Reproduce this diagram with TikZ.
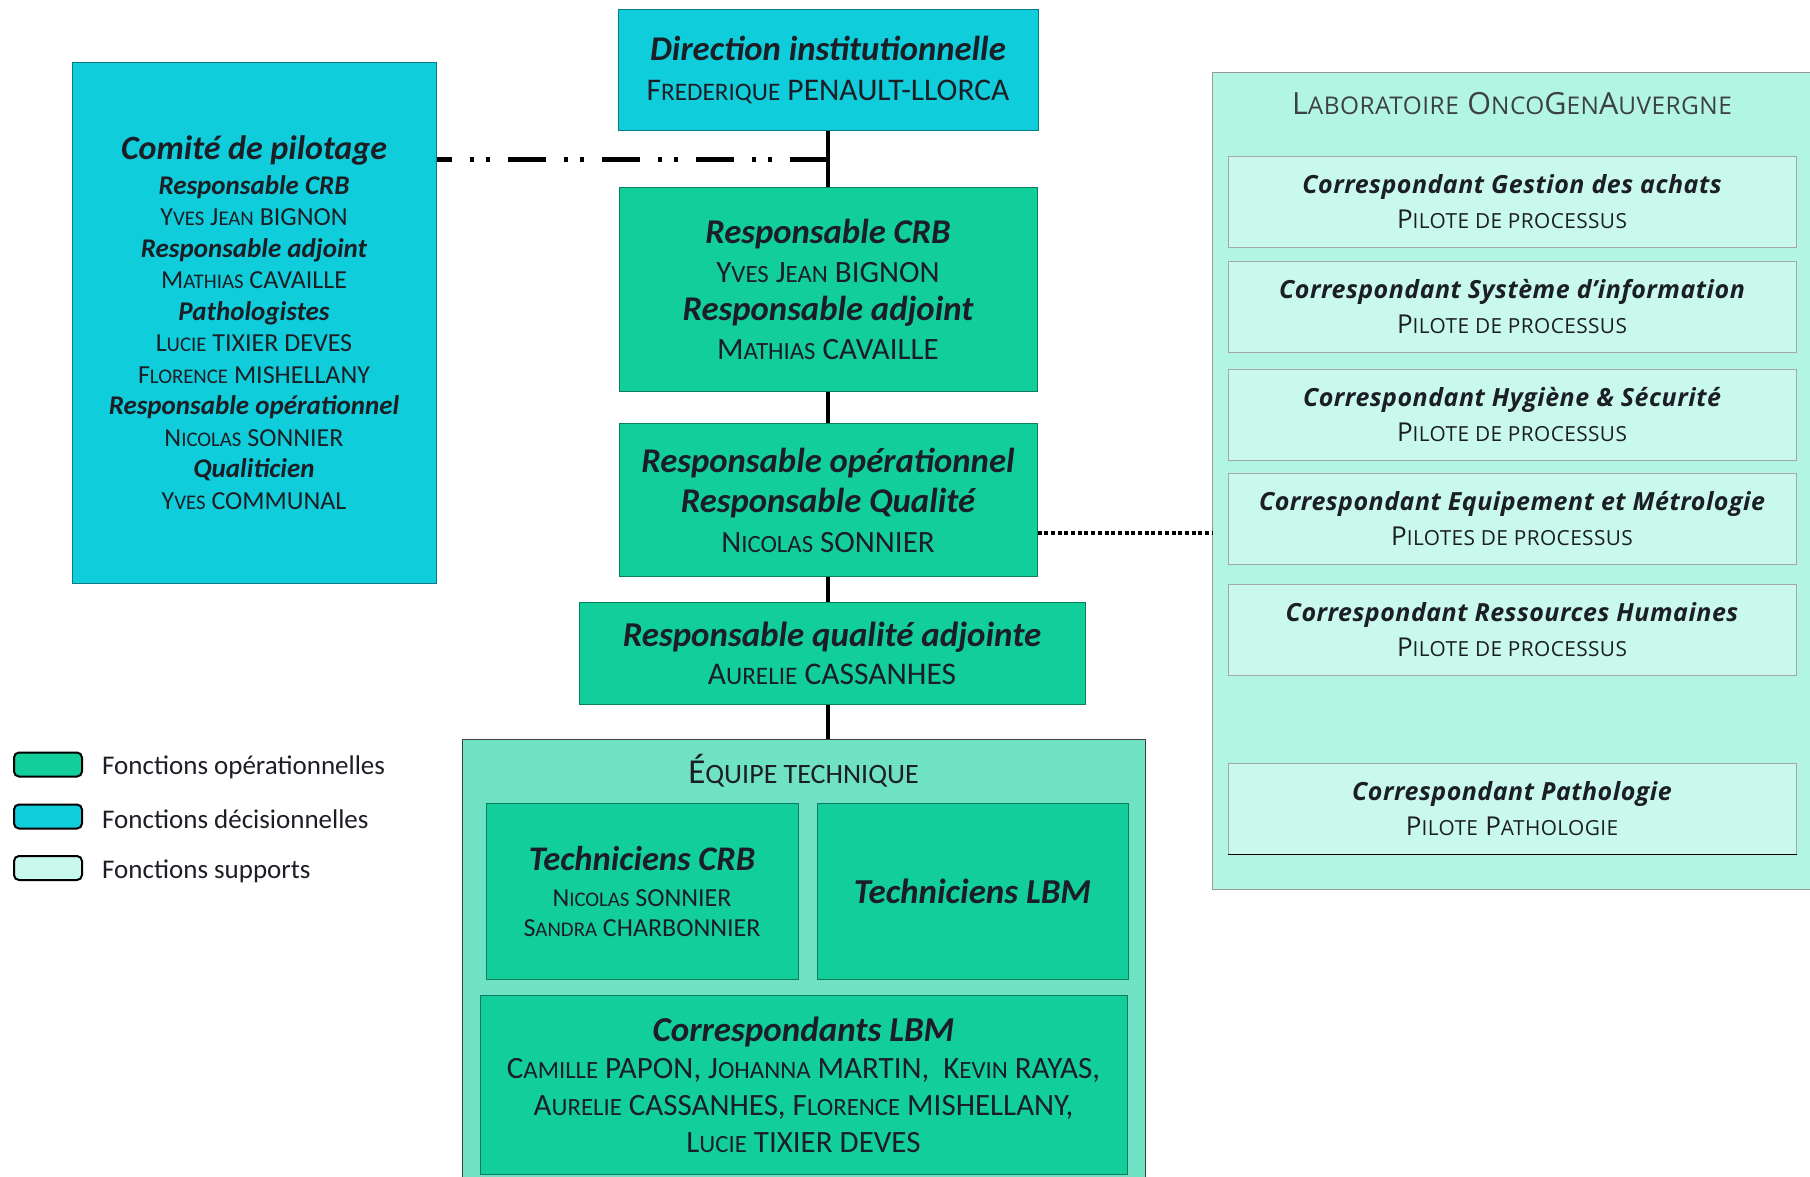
\documentclass[tikz,border=0pt]{standalone}
\usepackage{fontspec}
\setmainfont{Carlito}
\newfontfamily\labfont[LetterSpace=2]{Open Sans}
\usepackage{graphicx}
\usepackage{tikz}
\usetikzlibrary{positioning}

\definecolor{decision}{RGB}{16,205,220}
\definecolor{operation}{RGB}{18,206,154}
\definecolor{supportfond}{RGB}{178,245,226}
\definecolor{supportcase}{RGB}{201,248,236}
\definecolor{equipefond}{RGB}{111,226,195}
\definecolor{encre}{RGB}{27,30,36}

\newcommand\pc[1]{\scalebox{0.8}{#1}}
\newcommand\role[1]{{\bfseries\itshape #1}}
\newcommand\fs[2]{\fontsize{#1}{#2}\selectfont}

\tikzset{
  decisionbox/.style={draw=decision!60!black, line width=1pt, fill=decision, inner sep=0pt, align=center, text=encre},
  opbox/.style={draw=operation!60!black, line width=1pt, fill=operation, inner sep=0pt, align=center, text=encre},
  supportbox/.style={draw=black!35, line width=1pt, fill=supportcase, inner sep=0pt, align=center, text=encre,
    minimum width=568, minimum height=91, font=\labfont\fs{25}{35}},
  lien/.style={line width=3.5pt, black},
  legende/.style={draw=black, line width=2pt, rounded corners=5pt, minimum width=68, minimum height=24, inner sep=0pt},
  legtexte/.style={font=\fs{27}{30}, text=encre, inner sep=0pt, yshift=-3pt}
}

\begin{document}
\begin{tikzpicture}[x=1pt, y=-1pt]
    \useasboundingbox (0,0) rectangle (1810,1176);

    % colonne centrale
    \node[decisionbox, minimum width=420, minimum height=121, font=\fs{34.7}{40}] (dir) at (828,70)
        {\role{Direction institutionnelle}\\{\fs{31.5}{40}F\pc{REDERIQUE} PENAULT-LLORCA}};
    \node[opbox, below=56pt of dir, minimum width=418, minimum height=204, font=\fs{34.7}{38.7}] (crb)
        {\role{Responsable CRB}\\{\fs{31}{38.7}Y\pc{VES} J\pc{EAN} BIGNON}\\
         \role{Responsable adjoint}\\{\fs{31}{38.7}M\pc{ATHIAS} CAVAILLE}};
    \node[opbox, below=31pt of crb, minimum width=418, minimum height=153, font=\fs{34.7}{40}] (op)
        {\role{Responsable opérationnel}\\\role{Responsable Qualité}\\{\fs{31}{40}N\pc{ICOLAS} SONNIER}};
    \node[opbox, below=25pt of op, xshift=4pt, minimum width=506, minimum height=102, font=\fs{34.9}{38}] (qadj)
        {\role{Responsable qualité adjointe}\\{\fs{31.5}{38}A\pc{URELIE} CASSANHES}};

    % comite
    \node[decisionbox, minimum width=364, minimum height=521, font=\fs{26}{31.5}] (comite) at (254,322.5)
        {{\fs{34}{31.5}\role{Comité de pilotage}}\\[3pt]
         {\fs{27}{31.5}\role{Responsable CRB}}\\Y\pc{VES} J\pc{EAN} BIGNON\\
         {\fs{27}{31.5}\role{Responsable adjoint}}\\M\pc{ATHIAS} CAVAILLE\\
         {\fs{27}{31.5}\role{Pathologistes}}\\L\pc{UCIE} TIXIER DEVES\\F\pc{LORENCE} MISHELLANY\\
         {\fs{27}{31.5}\role{Responsable opérationnel}}\\N\pc{ICOLAS} SONNIER\\
         {\fs{27}{31.5}\role{Qualiticien}}\\Y\pc{VES} COMMUNAL};

    % equipe technique
    \node[draw=black!75, line width=1pt, fill=equipefond, inner sep=0pt, anchor=north,
          minimum width=683, minimum height=445] (equipe) at (803.5,739) {};
    \node[font=\fs{35}{36}, text=encre, inner sep=0pt] (eqtitre) at (803.5,771) {É\pc{QUIPE TECHNIQUE}};
    \node[opbox, minimum width=312, minimum height=176, font=\fs{26}{30}] (techcrb) at (642,891)
        {{\fs{34.5}{30}\role{Techniciens CRB}}\\[6pt]N\pc{ICOLAS} SONNIER\\S\pc{ANDRA} CHARBONNIER};
    \node[opbox, right=18pt of techcrb, minimum width=311, minimum height=176, font=\fs{35}{36}] (techlbm)
        {\role{Techniciens LBM}};
    \node[opbox, minimum width=647, minimum height=179, font=\fs{31}{37}] (corrlbm) at (803.5,1084.5)
        {{\fs{35}{37}\role{Correspondants LBM}}\\
         C\pc{AMILLE} PAPON, J\pc{OHANNA} MARTIN,\ \ K\pc{EVIN} RAYAS,\\
         A\pc{URELIE} CASSANHES, F\pc{LORENCE} MISHELLANY,\\
         L\pc{UCIE} TIXIER DEVES};

    % laboratoire
    \node[draw=black!40, line width=1pt, fill=supportfond, inner sep=0pt, anchor=north west,
          minimum width=600, minimum height=817] (lab) at (1212,72) {};
    \node[font=\labfont\fs{30.5}{36}, text=encre!85, inner sep=0pt] (labtitre) at (1512,104)
        {L\pc{ABORATOIRE} O\pc{NCO}G\pc{EN}A\pc{UVERGNE}};
    \node[supportbox] (achats) at (1512,201.5)
        {\role{Correspondant Gestion des achats}\\{\fs{26}{35}P\pc{ILOTE DE PROCESSUS}}};
    \node[supportbox] (si) at (1512,306.5)
        {\role{Correspondant Système d’information}\\{\fs{26}{35}P\pc{ILOTE DE PROCESSUS}}};
    \node[supportbox] (hygiene) at (1512,415)
        {\role{Correspondant Hygiène \& Sécurité}\\{\fs{26}{35}P\pc{ILOTE DE PROCESSUS}}};
    \node[supportbox] (metro) at (1512,518.5)
        {\role{Correspondant Equipement et Métrologie}\\{\fs{26}{35}P\pc{ILOTES DE PROCESSUS}}};
    \node[supportbox] (rh) at (1512,629.5)
        {\role{Correspondant Ressources Humaines}\\{\fs{26}{35}P\pc{ILOTE DE PROCESSUS}}};
    \node[supportbox] (patho) at (1512,808.5)
        {\role{Correspondant Pathologie}\\{\fs{26}{35}P\pc{ILOTE} P\pc{ATHOLOGIE}}};
    \draw[line width=1.5pt, black] (patho.south west) -- (patho.south east);

    % liens
    \draw[lien] (dir) -- (crb);
    \draw[lien] (crb) -- (op);
    \draw[lien] (op.south) -- (op.south |- qadj.north);
    \draw[lien] (op.south |- qadj.south) -- (op.south |- equipe.north);

    \coordinate (pilot) at (828,159);
    \draw[line width=5pt, dash pattern=on 38pt off 18pt on 4pt off 12pt on 4pt off 18pt, dash phase=23pt]
        (comite.east |- pilot) -- (pilot);
    \draw[line width=4.5pt, dash pattern=on 4pt off 2.7pt] (op.east |- 0,533) -- (lab.west |- 0,533);

    % legende
    \node[legende, fill=operation] (lop) at (48,764.5) {};
    \node[legtexte, right=19pt of lop] (tlop) {Fonctions opérationnelles};
    \node[legende, fill=decision] (ldec) at (48,816.5) {};
    \node[legtexte, right=19pt of ldec] (tldec) {Fonctions décisionnelles};
    \node[legende, fill=supportcase] (lsup) at (48,868) {};
    \node[legtexte, right=19pt of lsup] (tlsup) {Fonctions supports};
\end{tikzpicture}
\end{document}
